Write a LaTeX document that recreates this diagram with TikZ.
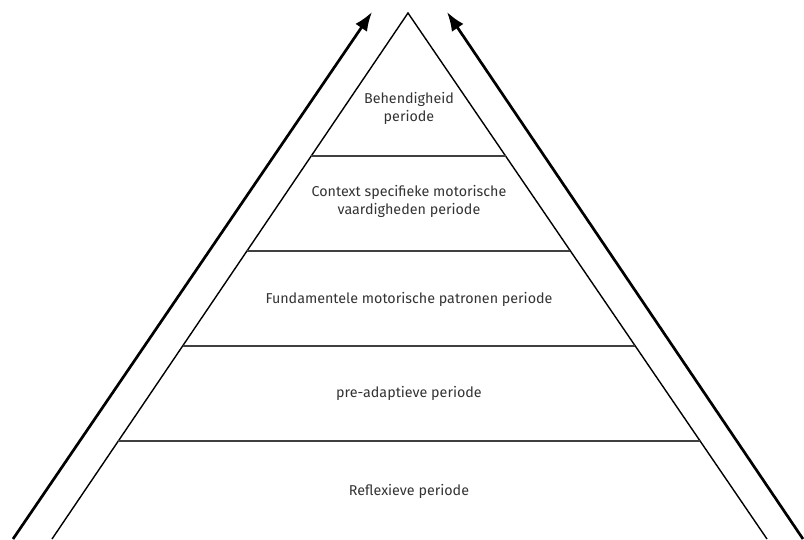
\documentclass[tikz,border=0pt]{standalone}
\usepackage{fontspec}
\setmainfont{Fira Sans}
\usetikzlibrary{arrows.meta,positioning,calc}

\begin{document}
\begin{tikzpicture}[
    x=1pt, y=-1pt,
    edge/.style={draw=black, line width=1.4pt},
    level/.style={draw=black!75, line width=1.4pt},
    label/.style={text=black!80, align=center, font=\fontsize{14.3}{18}\selectfont},
    arrow/.style={-{Latex[length=19pt, width=14pt]}, line width=2.7pt}
]
    \useasboundingbox (0,0) rectangle (804,539);

    % Pyramid corners
    \coordinate (apex) at (408,13);
    \coordinate (bl) at (52,539);
    \coordinate (br) at (767,539);

    % Arrow ends
    \coordinate (ls) at (13,539);
    \coordinate (le) at (372,12);
    \coordinate (rs) at (803,539);
    \coordinate (re) at (447,12);

    % Pyramid
    \draw[edge] (bl) -- (apex) -- (br);

    % Levels
    \foreach \t [count=\i] in {0.2719,0.4525,0.6331,0.8137} {
        \coordinate (l\i) at ($(apex)!\t!(bl)$);
        \coordinate (r\i) at ($(apex)!\t!(br)$);
        \draw[level] (l\i) -- (r\i);
    }

    % Labels
    \node[label] (top) at (409,108) {Behendigheid\\periode};
    \node[label] (ctx) at (409,201) {Context specifieke motorische\\vaardigheden periode};
    \node[label] (fund) at (409,299) {Fundamentele motorische patronen periode};
    \node[label] (pre) at (409,393) {pre-adaptieve periode};
    \node[label] (refl) at (409,491) {Reflexieve periode};

    % Arrows
    \draw[arrow] (ls) -- (le);
    \draw[arrow] (rs) -- (re);

\end{tikzpicture}
\end{document}
